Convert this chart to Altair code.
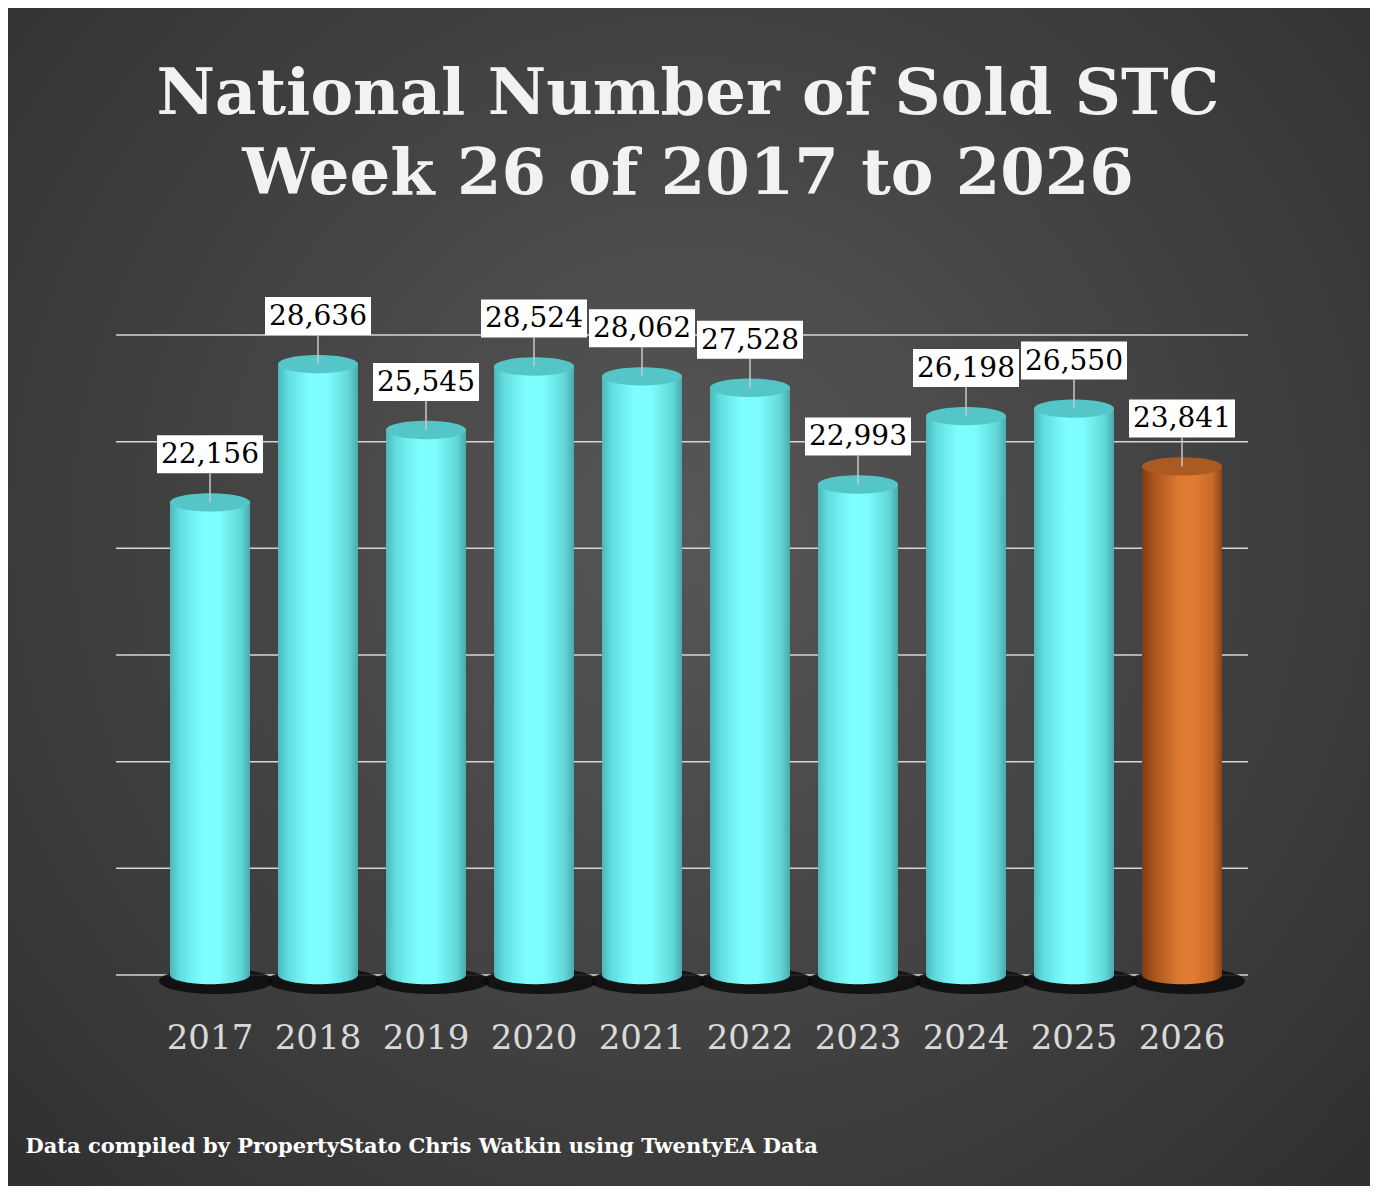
import altair as alt
import pandas as pd

years = ["2017", "2018", "2019", "2020", "2021", "2022", "2023", "2024", "2025", "2026"]
values = [22156, 28636, 25545, 28524, 28062, 27528, 22993, 26198, 26550, 23841]
grid_values = [0, 5000, 10000, 15000, 20000, 25000, 30000]
title_lines = ["National Number of  Sold STC", "Week 26 of 2017 to 2026"]
footer = "Data compiled by PropertyStato Chris Watkin using TwentyEA Data"
current_year = "2026"

W, H = 1080, 640
PAD = {"left": 148, "top": 327, "right": 134, "bottom": 211}

df = pd.DataFrame({"year": years, "value": values})
grid_df = pd.DataFrame({"g": grid_values})

ELLIPSE = "M -1 0 A 1 0.23 0 1 0 1 0 A 1 0.23 0 1 0 -1 0 Z"
BAR_W = 80

def hgrad(stops):
    return alt.Gradient(
        gradient="linear", x1=0, x2=1, y1=0, y2=0,
        stops=[alt.GradientStop(offset=o, color=c) for o, c in stops],
    )

cyan_body = hgrad([(0, "#48b9bb"), (0.12, "#62dcde"), (0.4, "#7efeff"), (0.62, "#7cfcfd"), (0.88, "#62d8da"), (1, "#4aa9ab")])
orange_body = hgrad([(0, "#7d3c12"), (0.15, "#a8561d"), (0.45, "#dc7832"), (0.62, "#e27d35"), (0.88, "#c96a28"), (1, "#8a4514")])

x_enc = alt.X(
    "year:N", sort=years,
    scale=alt.Scale(paddingInner=0.26, paddingOuter=0.13),
    axis=alt.Axis(
        labelAngle=0, labelFont="DejaVu Serif", labelFontSize=34, labelColor="#d9d9d9",
        labelBaseline="top", labelPadding=46, ticks=False, tickSize=0, domain=False, grid=False,
        title=footer, titleFont="DejaVu Serif", titleFontWeight="bold", titleFontSize=21,
        titleColor="#ffffff", titleAnchor="start", titleAlign="left", titleBaseline="alphabetic",
        titleX=-131, titleY=177, zindex=1,
    ),
)
y_scale = alt.Scale(domain=[0, 30000], nice=False, zero=True)
y_enc = alt.Y("value:Q", scale=y_scale, axis=None)

base = alt.Chart(df).encode(x=x_enc)

background = alt.Chart(pd.DataFrame({"k": [0]})).mark_rect(
    fill=alt.Gradient(
        gradient="radial", x1=0.5, y1=0.45, r1=0, x2=0.5, y2=0.45, r2=0.75,
        stops=[alt.GradientStop(offset=0, color="#575757"), alt.GradientStop(offset=1, color="#2c2c2c")],
    )
).encode(
    x=alt.value(-PAD["left"]), x2=alt.value(W + PAD["right"]),
    y=alt.value(-PAD["top"]), y2=alt.value(H + PAD["bottom"]),
)

grid = alt.Chart(grid_df).mark_rule(color="#d6d6d6", strokeWidth=1.5).encode(
    y=alt.Y("g:Q", scale=y_scale, axis=None),
    x=alt.value(-40), x2=alt.value(W + 12),
)

title1 = alt.Chart(pd.DataFrame({"k": [0]})).mark_text(
    text=title_lines[0], font="DejaVu Serif", fontWeight="bold", fontSize=64,
    color="#f2f2f2", align="center", baseline="alphabetic",
).encode(x=alt.value(532), y=alt.value(-221))
title2 = alt.Chart(pd.DataFrame({"k": [0]})).mark_text(
    text=title_lines[1], font="DejaVu Serif", fontWeight="bold", fontSize=64,
    color="#f2f2f2", align="center", baseline="alphabetic",
).encode(x=alt.value(532), y=alt.value(-141))

shadow = base.mark_point(
    shape=ELLIPSE, size=(BAR_W + 34) ** 2, filled=True, fill="#0a0a0a",
    strokeWidth=0, opacity=0.85, yOffset=6, xOffset=6,
).encode(y=alt.Y(datum=0, scale=y_scale, axis=None))

def cylinder(filter_expr, body, top_color):
    sub = base.transform_filter(filter_expr)
    bottom = sub.mark_point(
        shape=ELLIPSE, size=BAR_W ** 2, filled=True, fill=body, strokeWidth=0, opacity=1,
    ).encode(y=alt.Y(datum=0, scale=y_scale, axis=None))
    body_m = sub.mark_bar(size=BAR_W, fill=body, strokeWidth=0).encode(y=y_enc)
    top = sub.mark_point(
        shape=ELLIPSE, size=BAR_W ** 2, filled=True, fill=top_color, strokeWidth=0, opacity=1,
    ).encode(y=y_enc)
    return [bottom, body_m, top]

cyan_layers = cylinder(f"datum.year != '{current_year}'", cyan_body, "#55c6c7")
orange_layers = cylinder(f"datum.year == '{current_year}'", orange_body, "#ab5b22")

leader = base.mark_rule(color="#c8c8c8", strokeWidth=1.5, y2Offset=-29).encode(
    y=y_enc, y2=alt.Y2("value:Q"),
)
label_box = base.mark_tick(
    orient="horizontal", size=106, thickness=38, color="#ffffff", opacity=1, yOffset=-48,
).encode(y=y_enc)
label_text = base.mark_text(
    font="DejaVu Serif", fontSize=28, color="#000000", yOffset=-47, baseline="middle",
).encode(y=y_enc, text=alt.Text("value:Q", format=","))

chart = alt.layer(
    background, grid, title1, title2, shadow,
    *cyan_layers, *orange_layers, leader, label_box, label_text,
).properties(
    width=W, height=H, padding=PAD,
    autosize=alt.AutoSizeParams(type="none"),
    background="#3a3a3a",
).configure_view(stroke=None)

chart.save("out.html", embed_options={"renderer": "svg", "actions": False})
